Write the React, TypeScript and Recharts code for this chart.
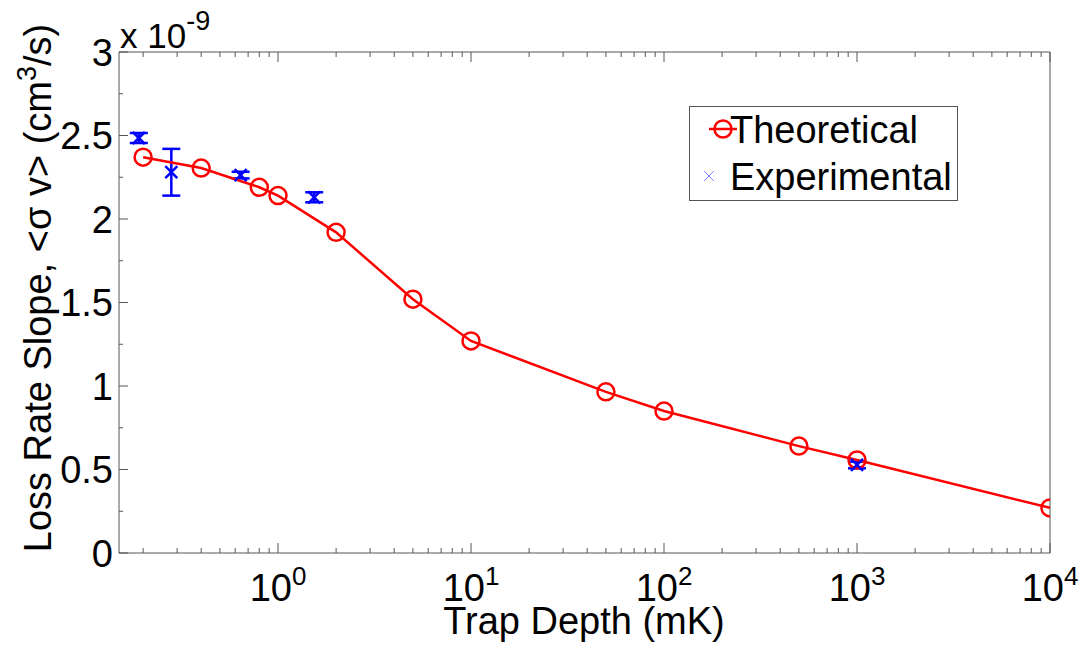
import { ScatterChart, Scatter, XAxis, YAxis, ErrorBar, Legend } from 'recharts';

// trap depth (mK) and loss-rate slope (units of 1e-9 cm^3/s)
const theoryDepth = [0.2, 0.4, 0.8, 1, 2, 5, 10, 50, 100, 500, 1000, 10000];
const theoryRate = [2.37, 2.305, 2.19, 2.14, 1.92, 1.52, 1.27, 0.965, 0.85, 0.64, 0.557, 0.27];

const expDepth = [0.19, 0.28, 0.64, 1.54, 1000];
const expRate = [2.485, 2.28, 2.263, 2.13, 0.527];
const expErr = [0.03, 0.14, 0.02, 0.03, 0.02];

const xTicks = [
  0.2, 0.3, 0.4, 0.5, 0.6, 0.7, 0.8, 0.9,
  1, 2, 3, 4, 5, 6, 7, 8, 9,
  10, 20, 30, 40, 50, 60, 70, 80, 90,
  100, 200, 300, 400, 500, 600, 700, 800, 900,
  1000, 2000, 3000, 4000, 5000, 6000, 7000, 8000, 9000,
  10000,
];
const yTicks = [0, 0.25, 0.5, 0.75, 1, 1.25, 1.5, 1.75, 2, 2.25, 2.5, 2.75, 3];

const theoryData = theoryDepth.map((x, i) => ({ x, y: theoryRate[i] }));
const expData = expDepth.map((x, i) => ({ x, y: expRate[i], err: expErr[i] }));

const FONT = 'Liberation Sans, Arial, sans-serif';
const AXIS = '#555';
const FS = 38;

const isMajorX = (v: number) => Math.abs(Math.log10(v) - Math.round(Math.log10(v))) < 1e-9;
const isMajorY = (v: number) => Math.abs(v * 2 - Math.round(v * 2)) < 1e-9;

const BottomTick = ({ x, y, payload }: any) => {
  const v = payload.value;
  const major = isMajorX(v);
  return (
    <g>
      <line x1={x} x2={x} y1={y} y2={y - (major ? 10 : 5)} stroke={AXIS} />
      {major && (
        <text x={x} y={y + 48} textAnchor="middle" fontFamily={FONT} fontSize={FS} fill="#000">
          10
          <tspan dy={-16} fontSize={26}>
            {Math.round(Math.log10(v))}
          </tspan>
        </text>
      )}
    </g>
  );
};

const TopTick = ({ x, y, payload }: any) => {
  const major = isMajorX(payload.value);
  return <line x1={x} x2={x} y1={y} y2={y + (major ? 10 : 5)} stroke={AXIS} />;
};

const LeftTick = ({ x, y, payload }: any) => {
  const v = payload.value;
  const major = isMajorY(v);
  return (
    <g>
      <line x1={x} x2={x + (major ? 9 : 4)} y1={y} y2={y} stroke={AXIS} />
      {major && (
        <text x={x - 6} y={y} dy="0.36em" textAnchor="end" fontFamily={FONT} fontSize={FS} fill="#000">
          {String(v)}
        </text>
      )}
    </g>
  );
};

const RightTick = ({ x, y, payload }: any) => {
  const major = isMajorY(payload.value);
  return <line x1={x} x2={x - (major ? 9 : 4)} y1={y} y2={y} stroke={AXIS} />;
};

const OpenCircle = ({ cx, cy }: any) => (
  <circle cx={cx} cy={cy} r={8.5} fill="none" stroke="#ff0000" strokeWidth={2.5} />
);

const Cross = ({ cx, cy }: any) => (
  <g stroke="#0000ff" strokeWidth={2.5}>
    <line x1={cx - 6} y1={cy - 6} x2={cx + 6} y2={cy + 6} />
    <line x1={cx - 6} y1={cy + 6} x2={cx + 6} y2={cy - 6} />
  </g>
);

const LegendBox = () => (
  <svg width={270} height={96} style={{ display: 'block' }}>
    <rect x={0.5} y={0.5} width={268} height={94} fill="#fff" stroke={AXIS} />
    <line x1={20} x2={48} y1={23} y2={23} stroke="#ff0000" strokeWidth={2.5} />
    <circle cx={34} cy={23} r={8.5} fill="none" stroke="#ff0000" strokeWidth={2.5} />
    <text x={41} y={37} fontFamily={FONT} fontSize={FS} fill="#000">Theoretical</text>
    <g stroke="#8080ff" strokeWidth={1}>
      <line x1={15} y1={65} x2={25} y2={75} />
      <line x1={15} y1={75} x2={25} y2={65} />
    </g>
    <text x={41} y={84} fontFamily={FONT} fontSize={FS} fill="#000">Experimental</text>
  </svg>
);

export default function App() {
  return (
    <div style={{ position: 'absolute', left: 0, top: 0, background: '#fff' }}>
      <ScatterChart width={1086} height={650} margin={{ top: 51, right: 35, bottom: 0, left: 0 }}>
        <XAxis
          xAxisId="bottom"
          dataKey="x"
          type="number"
          scale="log"
          domain={[0.15, 10000]}
          allowDataOverflow
          ticks={xTicks}
          interval={0}
          tickSize={0}
          tickMargin={0}
          tickLine={false}
          tick={<BottomTick />}
          height={97}
          stroke={AXIS}
          label={{
            content: () => (
              <text x={584} y={634} textAnchor="middle" fontFamily={FONT} fontSize={FS} fill="#000">
                Trap Depth (mK)
              </text>
            ),
          }}
        />
        <XAxis
          xAxisId="top"
          orientation="top"
          dataKey="x"
          type="number"
          scale="log"
          domain={[0.15, 10000]}
          allowDataOverflow
          ticks={xTicks}
          interval={0}
          tickSize={0}
          tickMargin={0}
          tickLine={false}
          tick={<TopTick />}
          height={1}
          stroke={AXIS}
          label={{
            content: () => (
              <text x={120} y={48} fontFamily={FONT} fontSize={35} fill="#000">
                x 10
                <tspan dy={-18} fontSize={27}>-9</tspan>
              </text>
            ),
          }}
        />
        <YAxis
          yAxisId="left"
          dataKey="y"
          type="number"
          domain={[0, 3]}
          ticks={yTicks}
          interval={0}
          tickSize={0}
          tickMargin={0}
          tickLine={false}
          tick={<LeftTick />}
          width={119}
          stroke={AXIS}
          label={{
            content: () => (
              <text
                x={51}
                y={288}
                transform="rotate(-90 51 288)"
                textAnchor="middle"
                fontFamily={FONT}
                fontSize={FS}
                fill="#000"
              >
                Loss Rate Slope, &lt;σ v&gt; (cm
                <tspan dy={-15} fontSize={27}>3</tspan>
                <tspan dy={15}>/s)</tspan>
              </text>
            ),
          }}
        />
        <YAxis
          yAxisId="right"
          orientation="right"
          dataKey="y"
          type="number"
          domain={[0, 3]}
          ticks={yTicks}
          interval={0}
          tickSize={0}
          tickMargin={0}
          tickLine={false}
          tick={<RightTick />}
          width={1}
          stroke={AXIS}
        />
        <Legend
          layout="vertical"
          align="center"
          verticalAlign="middle"
          content={() => <LegendBox />}
          wrapperStyle={{ position: 'absolute', left: 689, top: 106, width: 270, height: 96 }}
        />
        <Scatter
          name="Theoretical"
          data={theoryData}
          xAxisId="bottom"
          yAxisId="left"
          line={{ stroke: '#ff0000', strokeWidth: 2.5 }}
          shape={<OpenCircle />}
          isAnimationActive={false}
        />
        <Scatter
          name="Experimental"
          data={expData}
          xAxisId="bottom"
          yAxisId="left"
          shape={<Cross />}
          isAnimationActive={false}
        >
          <ErrorBar dataKey="err" direction="y" width={9} stroke="#0000ff" strokeWidth={2.5} />
        </Scatter>
      </ScatterChart>
    </div>
  );
}
